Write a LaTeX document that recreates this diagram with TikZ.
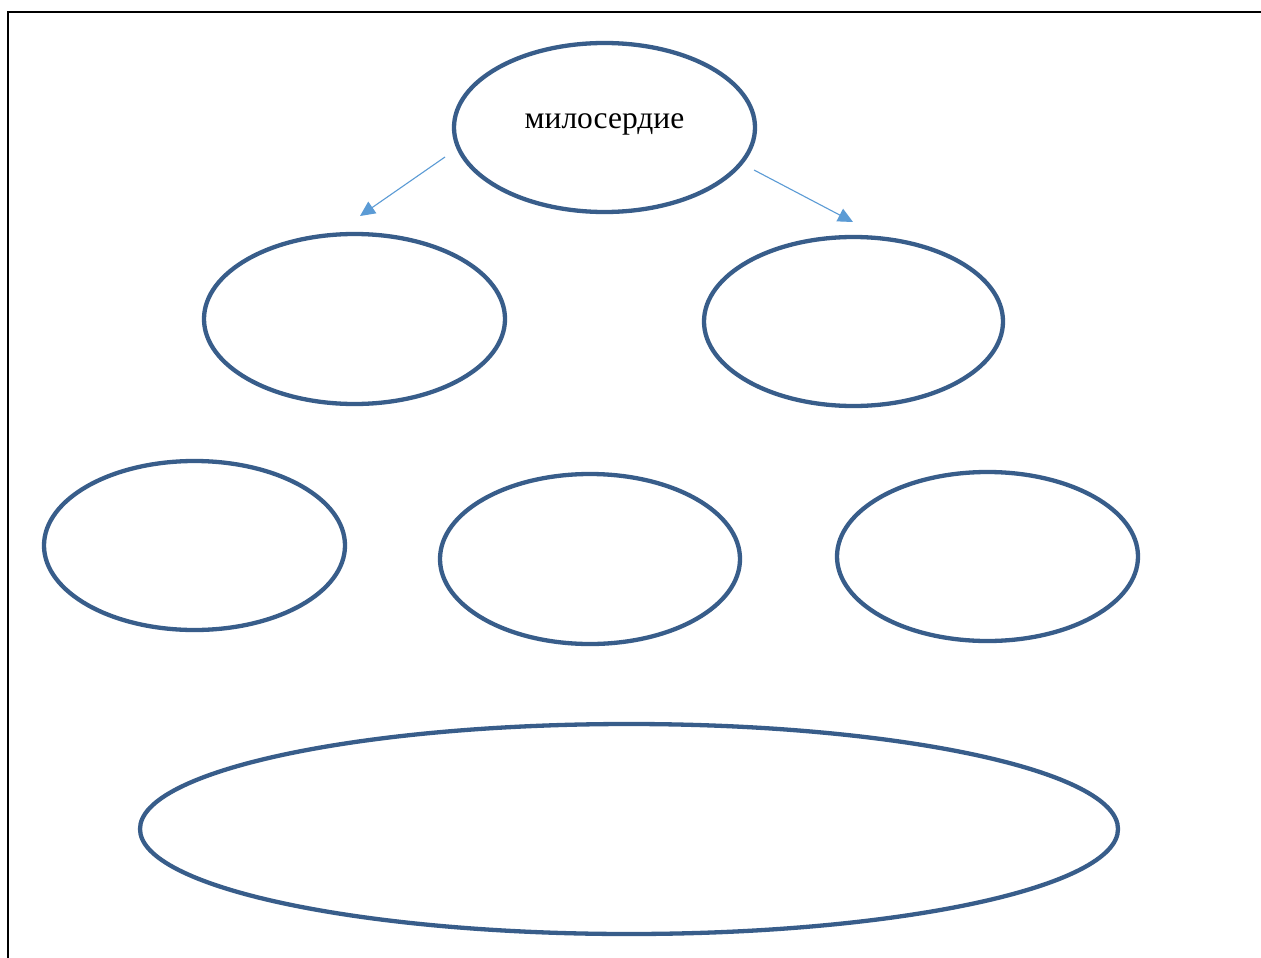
\documentclass[tikz,border=0pt]{standalone}
\usepackage{fontspec}
\setmainfont{Liberation Serif}
\usetikzlibrary{shapes.geometric,arrows.meta}
\definecolor{ringblue}{HTML}{385D8A}
\definecolor{arrowblue}{HTML}{5B9BD5}
\tikzset{
  ring/.style={ellipse, draw=ringblue, line width=4.3pt, inner sep=0pt, fill=white},
  link/.style={draw=arrowblue, line width=1.1pt, -{Triangle[length=15pt,width=14pt]}, arrowblue},
  frameline/.style={draw=black, line width=2.2pt}
}
\begin{document}
\begin{tikzpicture}[x=1pt,y=-1pt]
\useasboundingbox (0,0) rectangle (1261,958);
\fill[white] (0,0) rectangle (1261,958);
\coordinate (fbl) at (8,960);
\coordinate (ftl) at (8,12);
\coordinate (ftr) at (1263,12);
\draw[frameline] (fbl) -- (ftl) -- (ftr);
\node[ring, minimum width=301pt, minimum height=169pt] (top) at (604.5,127.5) {};
\node[font=\fontsize{31.5}{36}\selectfont] (lbl) at (604.5,124) {милосердие};
\node[ring, minimum width=301pt, minimum height=170pt] (ml) at (354.5,319) {};
\node[ring, minimum width=299pt, minimum height=169pt] (mr) at (853.5,321.5) {};
\node[ring, minimum width=301pt, minimum height=169pt] (bl) at (194.5,545.5) {};
\node[ring, minimum width=300pt, minimum height=170pt] (bm) at (590,559) {};
\node[ring, minimum width=301pt, minimum height=169pt] (br) at (987.5,556.5) {};
\node[ring, minimum width=978pt, minimum height=210pt] (big) at (629,829) {};
\coordinate (a1s) at (445,157);
\coordinate (a1e) at (360,216);
\coordinate (a2s) at (754,170);
\coordinate (a2e) at (853,222);
\draw[link] (a1s) -- (a1e);
\draw[link] (a2s) -- (a2e);
\end{tikzpicture}
\end{document}
